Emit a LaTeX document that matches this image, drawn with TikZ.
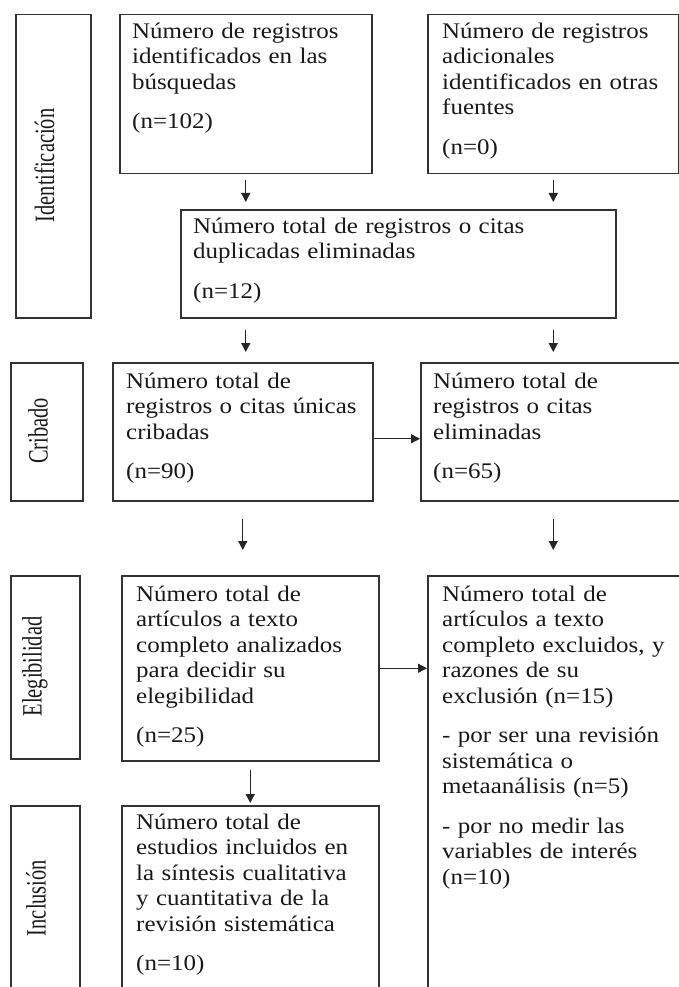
\documentclass[tikz,border=0pt]{standalone}
\usepackage{fontspec}
\setmainfont{Liberation Serif}[FakeStretch=1.12]
\newfontfamily\sidefont{Liberation Serif}[FakeStretch=0.73]
\usetikzlibrary{
    arrows.meta,
    calc
}
\tikzset{
  box/.style={draw=black!80, line width=1.5pt, anchor=north west, inner sep=0pt},
  txt/.style={anchor=north west, inner sep=0pt, text width=245pt, align=left,
    text=black!90, font=\fontsize{22.3}{25.5}\selectfont},
  side/.style={rotate=90, inner sep=0pt, text=black!90,
    font=\sidefont\fontsize{28}{30}\selectfont},
  arr/.style={black!85, line width=1.3pt, -{Triangle[length=9pt,width=9pt]}}
}

\begin{document}
\begin{tikzpicture}[x=1pt,y=-1pt]
    \useasboundingbox (0,0) rectangle (679,987);
    \clip (0,0) rectangle (679,987);

    % fases
    \node[box, minimum width=75pt, minimum height=303pt] (idf) at (15,14) {};
    \node[side] (idft) at (44.5,165.5) {Identificación};
    \node[box, minimum width=72pt, minimum height=138pt] (crib) at (10,362) {};
    \node[side] (cribt) at (38,431) {Cribado};
    \node[box, minimum width=69pt, minimum height=183pt] (eleg) at (10,575) {};
    \node[side] (elegt) at (35,666.5) {Elegibilidad};
    \node[box, minimum width=69pt, minimum height=190pt] (incl) at (10,805) {};
    \node[side] (inclt) at (36,898) {Inclusión};

    % identificación
    \node[box, minimum width=252pt, minimum height=159pt] (b1) at (119,14) {};
    \node[txt] (b1t) at ([shift={(13pt,-6pt)}]b1.north west)
      {\strut Número de registros\\ identificados en las\\ búsquedas\\[14pt] (n=102)};
    \node[box, minimum width=251pt, minimum height=159pt] (b2) at (427,14) {};
    \node[txt] (b2t) at ([shift={(15pt,-6pt)}]b2.north west)
      {\strut Número de registros\\ adicionales\\ identificados en otras\\ fuentes\\[14pt] (n=0)};
    \node[box, minimum width=435pt, minimum height=108pt] (b3) at (180,209) {};
    \node[txt, text width=400pt] (b3t) at ([shift={(13pt,-6pt)}]b3.north west)
      {\strut Número total de registros o citas\\ duplicadas eliminadas\\[14pt] (n=12)};

    % cribado
    \node[box, minimum width=260pt, minimum height=138pt] (b4) at (112,362) {};
    \node[txt] (b4t) at ([shift={(14pt,-8pt)}]b4.north west)
      {\strut Número total de\\ registros o citas únicas\\ cribadas\\[14pt] (n=90)};
    \node[box, minimum width=265pt, minimum height=138pt] (b5) at (420,362) {};
    \node[txt] (b5t) at ([shift={(13pt,-8pt)}]b5.north west)
      {\strut Número total de\\ registros o citas\\ eliminadas\\[14pt] (n=65)};

    % elegibilidad
    \node[box, minimum width=257pt, minimum height=185pt] (b6) at (121,575) {};
    \node[txt] (b6t) at ([shift={(15pt,-8pt)}]b6.north west)
      {\strut Número total de\\ artículos a texto\\ completo analizados\\ para decidir su\\ elegibilidad\\[14pt] (n=25)};
    \node[box, minimum width=280pt, minimum height=430pt] (b7) at (427,575) {};
    \node[txt] (b7t) at ([shift={(15pt,-8pt)}]b7.north west)
      {\strut Número total de\\ artículos a texto\\ completo excluidos, y\\ razones de su\\ exclusión (n=15)\\[14pt]
       - por ser una revisión\\ sistemática o\\ metaanálisis (n=5)\\[14pt]
       - por no medir las\\ variables de interés\\ (n=10)};

    % inclusión
    \node[box, minimum width=257pt, minimum height=190pt] (b8) at (121,805) {};
    \node[txt] (b8t) at ([shift={(15pt,-6pt)}]b8.north west)
      {\strut Número total de\\ estudios incluidos en\\ la síntesis cualitativa\\ y cuantitativa de la\\ revisión sistemática\\[14pt] (n=10)};

    % flechas
    \draw[arr, shorten <=6pt, shorten >=7pt] (b1.south) -- (b1.south |- b3.north);
    \draw[arr, shorten <=6pt, shorten >=7pt] (b2.south) -- (b2.south |- b3.north);
    \draw[arr, shorten <=11pt, shorten >=10pt] (b1.south |- b3.south) -- (b1.south |- b4.north);
    \draw[arr, shorten <=11pt, shorten >=10pt] (b2.south |- b3.south) -- (b2.south |- b5.north);
    \draw[arr] ([yshift=-7pt]b4.east) -- ([yshift=-7pt]b4.east -| b5.west);
    \draw[arr, shorten <=17pt, shorten >=25pt] (b4.south) -- (b4.south |- b6.north);
    \draw[arr, shorten <=17pt, shorten >=25pt] (b2.south |- b5.south) -- (b2.south |- b7.north);
    \draw[arr] (b6.east) -- (b6.east -| b7.west);
    \draw[arr, shorten <=8pt, shorten >=2pt] (b6.south) -- (b6.south |- b8.north);
\end{tikzpicture}
\end{document}
